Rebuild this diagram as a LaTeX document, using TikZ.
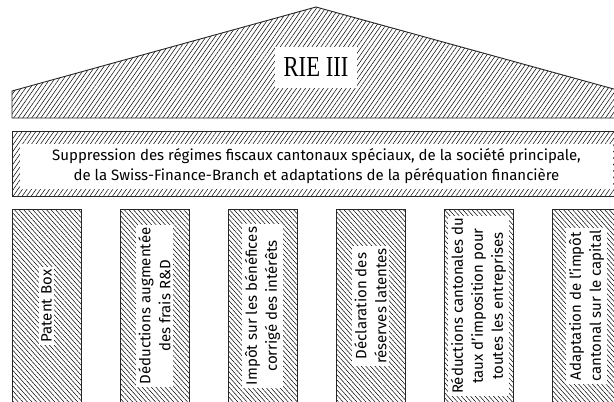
\documentclass[tikz,border=0pt]{standalone}
\usepackage{fontspec}
\setmainfont{Fira Sans}
\newfontfamily\roofserif{Liberation Serif}
\usetikzlibrary{patterns.meta}
\begin{document}
\begin{tikzpicture}[x=1pt,y=1pt,
  roofhatch/.style={pattern={Lines[angle=55,distance=3.7pt,line width=0.5pt]}},
  pillarhatch/.style={pattern={Lines[angle=-48,distance=3.4pt,line width=0.5pt]}},
  outline/.style={draw=black!85,line width=0.9pt},
  pillar/.style={outline,pillarhatch,rectangle,minimum width=69pt,minimum height=196pt,inner sep=0pt},
  ptext/.style={fill=white,rotate=90,align=center,font=\fontsize{15}{20}\selectfont,inner sep=2.5pt},
  bandtext/.style={fill=white,align=center,font=\fontsize{15}{20}\selectfont,minimum width=593pt,minimum height=45pt,inner sep=0pt},
  rooftext/.style={fill=white,font=\roofserif\fontsize{29}{29}\selectfont,minimum width=82pt,minimum height=41pt,inner sep=0pt}
]
\useasboundingbox (0,0) rectangle (614,-402);
\clip (0,0) rectangle (614,-402);
% roof
\draw[outline,roofhatch] (12,-118) -- (12,-91) -- (316,-7) -- (621,-91) -- (621,-118) -- cycle;
\node[rooftext] (rie) at (316,-67.5) {\scalebox{0.78}[1]{RIE III}};
% band
\node[outline,roofhatch,rectangle,minimum width=609pt,minimum height=65pt,inner sep=0pt] (band) at (316.5,-163.5) {};
\node[bandtext] (bandt) at (316.5,-166.5) {Suppression des régimes fiscaux cantonaux spéciaux, de la société principale,\\de la Swiss-Finance-Branch et adaptations de la péréquation financière};
% pillars
\node[pillar] (p1) at (46.5,-307) {};
\node[pillar] (p2) at (154.5,-307) {};
\node[pillar] (p3) at (262.5,-307) {};
\node[pillar] (p4) at (370.5,-307) {};
\node[pillar] (p5) at (478.5,-307) {};
\node[pillar] (p6) at (586.5,-307) {};
\node[ptext] (t1) at (46.5,-306) {Patent Box};
\node[ptext] (t2) at (154.5,-306) {Déductions augmentée\\des frais R\&D};
\node[ptext] (t3) at (262.5,-306) {Impôt sur les bénéfices\\corrigé des intérêts};
\node[ptext] (t4) at (370.5,-306) {Déclaration des\\réserves latentes};
\node[ptext] (t5) at (478.5,-306) {Réductions cantonales du\\taux d’imposition pour\\toutes les entreprises};
\node[ptext] (t6) at (586.5,-306) {Adaptation de l’impôt\\cantonal sur le capital};
\end{tikzpicture}
\end{document}
